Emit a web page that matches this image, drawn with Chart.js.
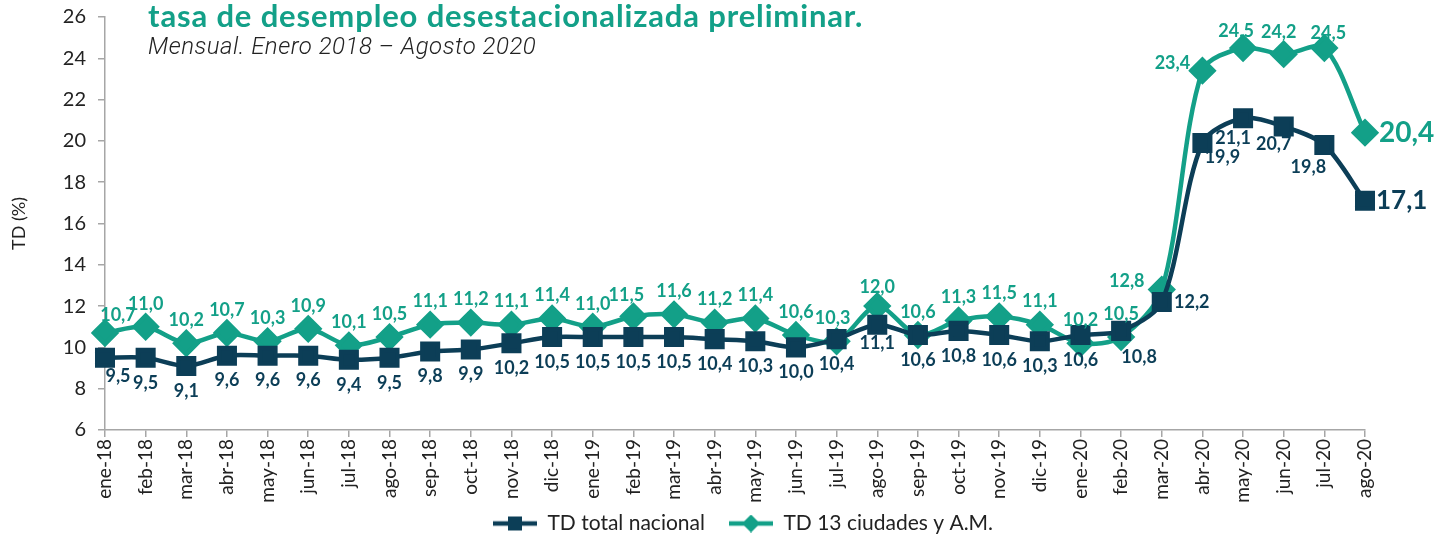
<!DOCTYPE html>
<html><head><meta charset="utf-8">
<script src="https://cdn.jsdelivr.net/npm/chart.js@4"></script>
<style>
html,body{margin:0;padding:0;background:#fff;}
#wrap{position:relative;width:1447px;height:539px;overflow:hidden;}
canvas{display:block;}
#title{position:absolute;left:148px;top:-1px;font:700 31px Lato, sans-serif;letter-spacing:0.85px;color:#13a088;white-space:nowrap;line-height:32px;}
#sub{position:absolute;left:148px;top:33px;font:italic 300 24px Roboto, sans-serif;letter-spacing:0.5px;color:#222;white-space:nowrap;line-height:26px;}
</style></head><body>
<div id="wrap"><canvas id="c" width="1447" height="539"></canvas>
<div id="title">tasa de desempleo desestacionalizada preliminar.</div>
<div id="sub">Mensual. Enero 2018 – Agosto 2020</div></div>
<script>
const categories = ['ene-18','feb-18','mar-18','abr-18','may-18','jun-18','jul-18','ago-18','sep-18','oct-18','nov-18','dic-18',
  'ene-19','feb-19','mar-19','abr-19','may-19','jun-19','jul-19','ago-19','sep-19','oct-19','nov-19','dic-19',
  'ene-20','feb-20','mar-20','abr-20','may-20','jun-20','jul-20','ago-20'];
const tdNacional = [9.5,9.5,9.1,9.6,9.6,9.6,9.4,9.5,9.8,9.9,10.2,10.5,
  10.5,10.5,10.5,10.4,10.3,10.0,10.4,11.1,10.6,10.8,10.6,10.3,
  10.6,10.8,12.2,19.9,21.1,20.7,19.8,17.1];
const td13Ciudades = [10.7,11.0,10.2,10.7,10.3,10.9,10.1,10.5,11.1,11.2,11.1,11.4,
  11.0,11.5,11.6,11.2,11.4,10.6,10.3,12.0,10.6,11.3,11.5,11.1,
  10.2,10.5,12.8,23.4,24.5,24.2,24.5,20.4];
const seriesNames = ['TD total nacional','TD 13 ciudades y A.M.'];
const yTickValues = [6,8,10,12,14,16,18,20,22,24,26];

const NAVY = '#0c3e57', TEAL = '#13a088';

function legendIcon(color, style){
  const c = document.createElement('canvas'); c.width = 60; c.height = 18;
  const g = c.getContext('2d');
  g.strokeStyle = color; g.lineWidth = 4.5;
  g.beginPath(); g.moveTo(16,9); g.lineTo(60,9); g.stroke();
  g.fillStyle = color;
  if (style === 'rect') { g.fillRect(31,2,14,14); }
  else { g.beginPath(); g.moveTo(29,9); g.lineTo(38,0); g.lineTo(47,9); g.lineTo(38,18); g.closePath(); g.fill(); }
  return c;
}
const icons = [legendIcon(NAVY,'rect'), legendIcon(TEAL,'diamond')];

// label placement: [dx, dy] relative to the point
const labelPlace = {
  0: { def:[0,25], special:{0:[13,18],19:[0,19],25:[18,26],26:[30,0],27:[20,14],28:[-10,20],29:[-10,18],30:[-16,22]} },
  1: { def:[0,-23], special:{0:[13,-18],13:[-7,-21],18:[-4,-23],19:[0,-19],26:[-35,-8],27:[-30,-8],28:[-7,-17],29:[-5,-22],30:[4,-15]} }
};
const bigLabel = { 0:{dx:11,size:26}, 1:{dx:14,size:28} };

const labelPlugin = {
  id: 'valueLabels',
  afterDatasetsDraw(chart){
    const ctx = chart.ctx;
    chart.data.datasets.forEach((ds, di) => {
      const meta = chart.getDatasetMeta(di);
      const color = ds.borderColor;
      const last = meta.data.length - 1;
      meta.data.forEach((pt, i) => {
        const txt = ds.data[i].toFixed(1).replace('.', ',');
        ctx.save();
        ctx.fillStyle = color;
        ctx.textBaseline = 'middle';
        if (i === last) {
          ctx.font = '700 ' + bigLabel[di].size + 'px Lato, sans-serif';
          ctx.textAlign = 'left';
          ctx.fillText(txt, pt.x + bigLabel[di].dx, pt.y);
        } else {
          const p = labelPlace[di].special[i] || labelPlace[di].def;
          ctx.font = '700 18px Lato, sans-serif';
          ctx.textAlign = 'center';
          ctx.fillText(txt, pt.x + p[0], pt.y + p[1]);
        }
        ctx.restore();
      });
    });
  }
};

new Chart(document.getElementById('c'), {
  type: 'line',
  data: {
    labels: categories,
    datasets: [
      { label: seriesNames[0], data: tdNacional, borderColor: NAVY, backgroundColor: NAVY,
        pointBackgroundColor: NAVY, pointBorderColor: NAVY, pointStyle: 'rect', pointRadius: 11,
        borderWidth: 4.5, tension: 0.3, fill: false },
      { label: seriesNames[1], data: td13Ciudades, borderColor: TEAL, backgroundColor: TEAL,
        pointBackgroundColor: TEAL, pointBorderColor: TEAL, pointStyle: 'rectRot', pointRadius: 11,
        borderWidth: 4.5, tension: 0.3, fill: false }
    ]
  },
  options: {
    responsive: false, animation: false, devicePixelRatio: 1, events: [],
    layout: { padding: { left: 0, right: 82, top: 17, bottom: -5 } },
    scales: {
      x: {
        type: 'category', offset: false,
        grid: { display: true, drawOnChartArea: false, drawTicks: true, tickLength: 7, color: '#a6a6a6', lineWidth: 1.5 },
        border: { display: true, color: '#a6a6a6', width: 1.5 },
        ticks: { autoSkip: false, maxRotation: 90, minRotation: 90, padding: 2, color: '#222', font: { family: 'Lato', size: 19 } },
        afterFit(scale){ scale.height = 75; }
      },
      y: {
        min: 6, max: 26,
        afterBuildTicks(scale){ scale.ticks = yTickValues.map(v => ({ value: v })); },
        grid: { display: true, drawOnChartArea: false, drawTicks: true, tickLength: 7, color: '#a6a6a6', lineWidth: 1.5 },
        border: { display: true, color: '#a6a6a6', width: 1.5 },
        ticks: { padding: 12, color: '#222', font: { family: 'Lato', size: 20 } },
        title: { display: true, text: 'TD (%)', color: '#222', font: { family: 'Lato', size: 18 }, padding: { top: 8, bottom: 0 } },
        afterFit(scale){ scale.width = 105; scale.paddingTop = 4; scale.paddingBottom = 4; }
      }
    },
    plugins: {
      tooltip: { enabled: false },
      legend: {
        display: true, position: 'bottom', fullSize: false,
        labels: {
          usePointStyle: true, pointStyleWidth: 60, boxHeight: 21, padding: 8,
          color: '#222', font: { family: 'Lato', size: 21 },
          generateLabels(chart){
            return Chart.defaults.plugins.legend.labels.generateLabels(chart).map((l, i) => Object.assign(l, { pointStyle: icons[i] }));
          }
        }
      }
    }
  },
  plugins: [labelPlugin]
});
</script>
</body></html>
